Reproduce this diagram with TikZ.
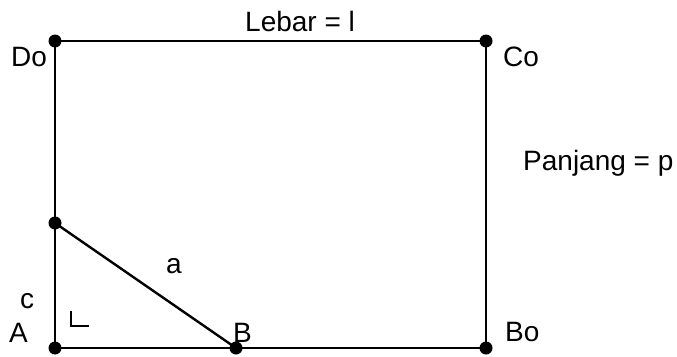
\documentclass[tikz,border=0pt]{standalone}
\usepackage{fontspec}
\setmainfont{Liberation Sans}
\usetikzlibrary{positioning}

\begin{document}
\begin{tikzpicture}[
  x=1pt, y=-1pt,
  dot/.style={circle, fill=black, inner sep=0pt, minimum size=13pt},
  lbl/.style={anchor=base west, inner sep=0pt, font=\fontsize{28}{32}\selectfont},
  side/.style={line width=2.4pt},
]
\useasboundingbox (0,0) rectangle (677,356);
\node[dot] (A) at (55,348) {};
\node[dot] (B) at (236,348) {};
\node[dot] (Bo) at (486,348) {};
\node[dot] (Co) at (486,41) {};
\node[dot] (Do) at (55,41) {};
\node[dot] (E) at (55,223) {};
\draw[side] (A.center) -- (Bo.center) -- (Co.center) -- (Do.center) -- cycle;
\draw[side] (E.center) -- (B.center);
\draw[side] (71,311) -- (71,326) -- (89,326);
\node[lbl] (lebar) at (245,31) {Lebar = l};
\node[lbl] (panjang) at (523,170) {Panjang = p};
\node[lbl] (lDo) at (11,66) {Do};
\node[lbl] (lCo) at (503,66) {Co};
\node[lbl] (lBo) at (505,341) {Bo};
\node[lbl] (la) at (166,273) {a};
\node[lbl] (lc) at (20,308) {c};
\node[lbl] (lA) at (9,342) {A};
\node[lbl] (lB) at (233,342) {B};
\end{tikzpicture}
\end{document}
